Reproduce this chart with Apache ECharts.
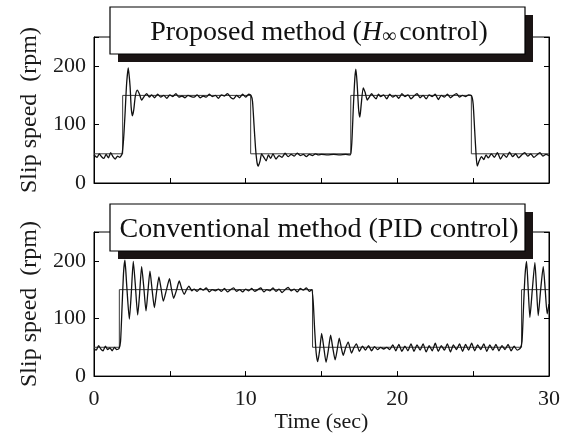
<!DOCTYPE html>
<html>
<head>
<meta charset="utf-8">
<script src="https://cdn.jsdelivr.net/npm/echarts@6/dist/echarts.min.js"></script>
<style>html,body{margin:0;padding:0;background:#fff}#c{width:568px;height:434px}</style>
</head>
<body>
<div id="c"></div>
<script>
// ---- data ----
const xTicks = [0, 10, 20, 30];
const yTicks = [0, 100, 200];
const titleTop = 'Proposed method (';
const titleBottom = 'Conventional method (PID control)';
const yName = 'Slip speed  (rpm)';
const xName = 'Time (sec)';

// reference (command) step, H-infinity experiment
const refTop = [[0,50],[1.89,50],[1.89,150],[10.33,150],[10.33,50],[16.93,50],[16.93,150],[24.88,150],[24.88,50],[30,50]];
// reference (command) step, PID experiment
const refBottom = [[0,50],[1.67,50],[1.67,150],[14.41,150],[14.41,50],[28.19,50],[28.19,150],[30,150]];

// measured slip speed, proposed H-infinity control
const hinfResponse = [
[0,48],[0.2,44],[0.35,50],[0.5,45],[0.65,42],[0.8,49],[0.95,43],[1.1,52],[1.25,45],[1.4,41],[1.55,46],[1.7,44],[1.85,50],
[1.95,75],[2.05,120],[2.15,170],[2.26,197],[2.38,165],[2.45,130],[2.53,115],[2.62,125],[2.72,148],[2.85,159],[3.0,152],[3.14,142],
[3.3,148],[3.47,153],[3.65,147],[3.8,151],[4.0,146],[4.2,152],[4.4,147],[4.6,150],[4.8,145],[5.0,151],[5.2,148],[5.4,153],[5.6,147],
[5.8,149],[6.0,146],[6.2,150],[6.4,148],[6.6,147],[6.8,151],[7.0,146],[7.2,149],[7.4,147],[7.6,152],[7.8,148],[8.0,150],[8.2,145],
[8.4,151],[8.6,149],[8.8,153],[9.0,147],[9.2,144],[9.4,150],[9.6,146],[9.8,152],[10.0,147],[10.2,152],[10.35,150],[10.45,140],
[10.55,100],[10.65,60],[10.75,35],[10.83,29],[10.95,38],[11.05,50],[11.2,44],[11.35,38],[11.5,48],[11.65,42],[11.8,50],[12.0,41],
[12.2,47],[12.4,44],[12.6,51],[12.8,45],[13.0,49],[13.2,46],[13.4,51],[13.6,47],[13.8,49],[14.0,45],[14.2,49],[14.4,47],[14.6,50],
[14.8,48],[15.0,49],[15.4,48],[15.8,49],[16.2,48],[16.6,49],[16.9,48],[17.0,70],[17.1,130],[17.2,180],[17.27,195],[17.35,170],
[17.45,125],[17.53,113],[17.62,135],[17.75,163],[17.88,155],[18.02,142],[18.15,147],[18.3,153],[18.45,148],[18.6,144],[18.75,152],
[18.9,148],[19.1,151],[19.3,144],[19.5,152],[19.7,147],[19.9,150],[20.1,145],[20.3,153],[20.5,148],[20.7,151],[20.9,144],[21.1,149],
[21.3,153],[21.5,146],[21.7,150],[21.9,144],[22.1,151],[22.3,148],[22.5,152],[22.7,143],[22.9,150],[23.1,147],[23.3,152],[23.5,146],
[23.7,150],[23.9,153],[24.1,147],[24.3,150],[24.5,148],[24.7,151],[24.9,149],[25.0,135],[25.1,90],[25.2,45],[25.27,29],[25.4,38],
[25.55,45],[25.7,40],[25.85,48],[26.0,43],[26.2,50],[26.4,44],[26.6,52],[26.8,41],[27.0,49],[27.2,44],[27.4,53],[27.6,45],[27.8,50],
[28.0,43],[28.2,48],[28.4,52],[28.6,46],[28.8,50],[29.0,44],[29.2,48],[29.4,52],[29.6,46],[29.8,49],[30.0,47]
];

// measured slip speed, conventional PID control
const pidResponse = [
[0,48],[0.15,45],[0.3,53],[0.45,47],[0.6,44],[0.75,52],[0.9,46],[1.05,49],[1.2,44],[1.35,50],[1.5,46],[1.65,48],[1.75,60],
[1.85,120],[1.95,180],[2.04,201],[2.15,160],[2.33,99],[2.45,140],[2.59,199],[2.72,160],[2.88,106],[3.0,140],[3.14,190],[3.28,155],
[3.43,113],[3.55,145],[3.69,182],[3.83,150],[3.98,119],[4.12,145],[4.28,172],[4.42,152],[4.57,130],[4.78,150],[4.98,169],[5.1,152],
[5.25,135],[5.45,150],[5.62,165],[5.78,152],[5.95,142],[6.1,150],[6.26,156],[6.45,148],[6.6,151],[6.8,147],[7.0,152],[7.2,149],
[7.4,153],[7.6,146],[7.8,150],[8.0,148],[8.2,151],[8.4,147],[8.6,152],[8.8,146],[9.0,150],[9.2,153],[9.4,147],[9.6,150],[9.8,146],
[10.0,151],[10.2,148],[10.4,152],[10.6,147],[10.8,150],[11.0,153],[11.2,146],[11.4,150],[11.6,148],[11.8,153],[12.0,147],[12.2,151],
[12.4,145],[12.6,150],[12.8,154],[13.0,148],[13.2,151],[13.4,146],[13.6,152],[13.8,149],[14.0,153],[14.2,147],[14.35,150],[14.45,130],
[14.55,80],[14.65,40],[14.75,25],[14.88,45],[15.01,74],[15.15,50],[15.3,24],[15.45,45],[15.6,71],[15.75,48],[15.9,28],[16.03,45],
[16.17,66],[16.3,50],[16.43,36],[16.6,50],[16.76,59],[16.98,40],[17.15,50],[17.3,56],[17.5,43],[17.7,52],[17.9,45],[18.1,53],
[18.3,44],[18.5,51],[18.7,46],[18.9,50],[19.1,47],[19.3,50],[19.5,46],[19.7,54],[19.9,44],[20.1,55],[20.3,43],[20.5,52],[20.7,44],
[20.9,56],[21.1,43],[21.3,54],[21.5,45],[21.7,56],[21.9,42],[22.1,53],[22.3,44],[22.5,57],[22.7,43],[22.9,53],[23.1,45],[23.3,56],
[23.5,42],[23.7,54],[23.9,46],[24.1,56],[24.3,43],[24.5,55],[24.7,45],[24.9,57],[25.1,44],[25.3,54],[25.5,46],[25.7,56],[25.9,43],
[26.1,54],[26.3,45],[26.5,55],[26.7,44],[26.9,53],[27.1,46],[27.3,55],[27.5,44],[27.7,52],[27.9,45],[28.1,48],[28.22,60],[28.32,120],
[28.42,175],[28.52,199],[28.63,150],[28.74,102],[28.9,150],[29.07,197],[29.18,150],[29.29,105],[29.45,150],[29.62,190],[29.75,150],
[29.88,108],[30.0,125]
];

// ---- chart ----
const FONT = '"Liberation Serif","Times New Roman",serif';
const chart = echarts.init(document.getElementById('c'), null, {renderer: 'canvas'});

function xAx(g, labels) {
  return {
    gridIndex: g, type: 'value', min: 0, max: 30, interval: 5,
    axisLine: {lineStyle: {color: '#000', width: 1}},
    axisTick: {inside: true, length: 5, lineStyle: {color: '#000'}},
    splitLine: {show: false},
    axisLabel: {show: labels, margin: 12, color: '#1a1a1a', fontFamily: FONT, fontSize: 22,
      formatter: v => xTicks.indexOf(v) >= 0 ? String(v) : ''},
    name: labels ? xName : '', nameLocation: 'middle', nameGap: 30,
    nameTextStyle: {color: '#1a1a1a', fontFamily: FONT, fontSize: 22}
  };
}
function yAx(g, right) {
  return {
    gridIndex: g, type: 'value', min: 0, max: 250, interval: 100, position: right ? 'right' : 'left',
    axisLine: {show: true, lineStyle: {color: '#000', width: 1}},
    axisTick: {show: true, inside: true, length: 5, lineStyle: {color: '#000'}},
    splitLine: {show: false},
    axisLabel: {show: !right, margin: 8, color: '#1a1a1a', fontFamily: FONT, fontSize: 22,
      formatter: v => yTicks.indexOf(v) >= 0 ? String(v) : ''},
    name: right ? '' : yName, nameLocation: 'middle', nameGap: 51, nameRotate: 90,
    nameTextStyle: {color: '#1a1a1a', fontFamily: FONT, fontSize: 24}
  };
}
function titleBox(y, content, rich) {
  return [
    {type: 'rect', z: 100, shape: {x: 118, y: y + 8, width: 415, height: 47}, style: {fill: '#1a1414'}},
    {type: 'rect', z: 101, shape: {x: 110, y: y, width: 415, height: 47}, style: {fill: '#fff', stroke: '#000', lineWidth: 1.2}},
    {type: 'text', z: 102, style: {x: 319, y: y + 26, text: content, align: 'center', verticalAlign: 'middle',
      fontFamily: FONT, fontSize: 28, fill: '#111', rich: rich}}
  ];
}
const richTop = {
  n: {fontFamily: FONT, fontSize: 28, fill: '#111'},
  i: {fontFamily: FONT, fontSize: 28, fontStyle: 'italic', fill: '#111'},
  s: {fontFamily: FONT, fontSize: 20, fill: '#111', verticalAlign: 'bottom', padding: [0, 3, 0, 0]}
};

chart.setOption({
  animation: false,
  backgroundColor: '#fff',
  grid: [
    {left: 94, top: 37, width: 455, height: 146, show: true, borderColor: '#000', borderWidth: 1, backgroundColor: 'transparent'},
    {left: 94, top: 232, width: 455, height: 146, show: true, borderColor: '#000', borderWidth: 1, backgroundColor: 'transparent'}
  ],
  xAxis: [xAx(0, false), xAx(1, true)],
  yAxis: [yAx(0, false), yAx(0, true), yAx(1, false), yAx(1, true)],
  series: [
    {type: 'line', xAxisIndex: 0, yAxisIndex: 0, data: refTop, showSymbol: false, lineStyle: {color: '#3a3a3a', width: 1}, z: 2},
    {type: 'line', xAxisIndex: 0, yAxisIndex: 0, data: hinfResponse, showSymbol: false, smooth: 0.2, lineStyle: {color: '#111', width: 1.3}, z: 3},
    {type: 'line', xAxisIndex: 1, yAxisIndex: 2, data: refBottom, showSymbol: false, lineStyle: {color: '#3a3a3a', width: 1}, z: 2},
    {type: 'line', xAxisIndex: 1, yAxisIndex: 2, data: pidResponse, showSymbol: false, smooth: 0.2, lineStyle: {color: '#111', width: 1.3}, z: 3}
  ],
  graphic: [].concat(
    titleBox(7, '{n|' + titleTop + '}{i|H}{s|∞}{n|control)}', richTop),
    titleBox(204, titleBottom, null)
  )
});
</script>
</body>
</html>
